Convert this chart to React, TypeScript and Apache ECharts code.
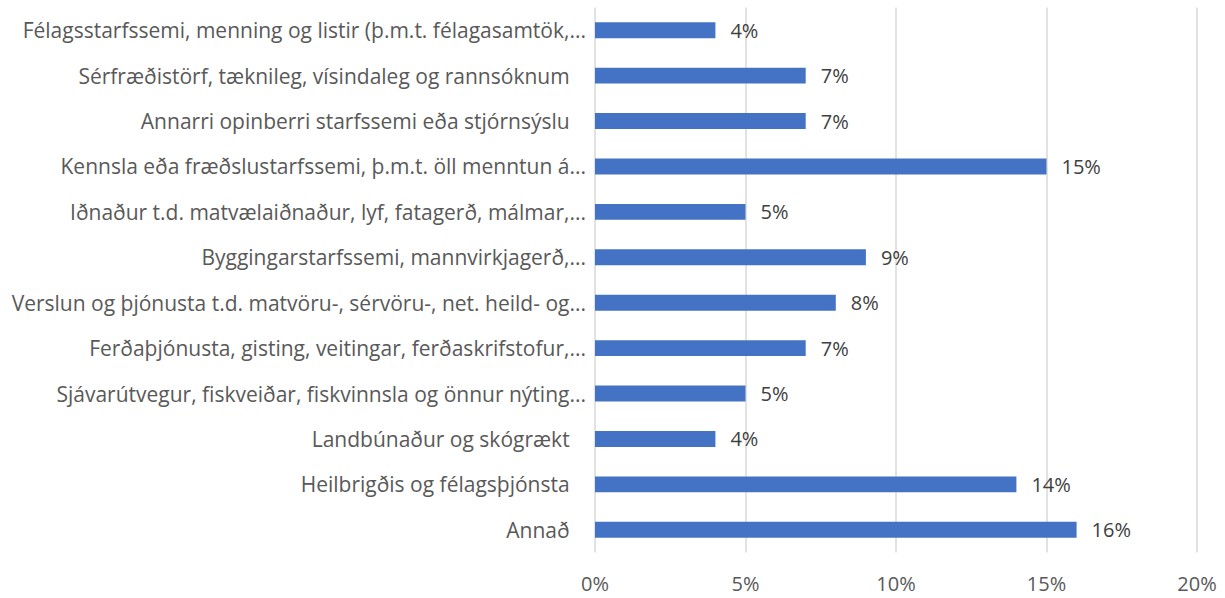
import React, { useEffect, useRef } from "react";
import * as echarts from "echarts";

const categories = [
  "Félagsstarfssemi, menning og listir (þ.m.t. félagasamtök,...",
  "Sérfræðistörf, tæknileg, vísindaleg og rannsóknum",
  "Annarri opinberri starfssemi eða stjórnsýslu",
  "Kennsla eða fræðslustarfssemi, þ.m.t. öll menntun á...",
  "Iðnaður t.d. matvælaiðnaður, lyf, fatagerð, málmar,...",
  "Byggingarstarfssemi, mannvirkjagerð,...",
  "Verslun og þjónusta t.d. matvöru-, sérvöru-, net. heild- og...",
  "Ferðaþjónusta, gisting, veitingar, ferðaskrifstofur,...",
  "Sjávarútvegur, fiskveiðar, fiskvinnsla og önnur nýting...",
  "Landbúnaður og skógrækt",
  "Heilbrigðis og félagsþjónsta",
  "Annað",
];
const values = [4, 7, 7, 15, 5, 9, 8, 7, 5, 4, 14, 16];
const xTicks = [0, 5, 10, 15, 20];

const FONT = "'Open Sans', sans-serif";

export default function App() {
  const ref = useRef<HTMLDivElement>(null);
  useEffect(() => {
    if (!ref.current) return;
    const chart = echarts.init(ref.current, undefined, { renderer: "svg" });
    chart.setOption({
      animation: false,
      grid: { left: 595, right: 28, top: 7.5, bottom: 45.5, containLabel: false },
      xAxis: {
        type: "value",
        min: xTicks[0],
        max: xTicks[xTicks.length - 1],
        interval: 5,
        axisLine: { show: false },
        axisTick: { show: false },
        splitLine: { show: true, lineStyle: { color: "#d9d9d9", width: 1.5 } },
        axisLabel: {
          formatter: "{value}%",
          color: "#595959",
          fontFamily: FONT,
          fontSize: 20,
          margin: 21,
        },
      },
      yAxis: {
        type: "category",
        inverse: true,
        data: categories,
        axisLine: { show: false },
        axisTick: { show: false },
        axisLabel: {
          color: "#595959",
          fontFamily: FONT,
          fontSize: 21,
          margin: 9,
          formatter: (v: string) => (v.endsWith("...") ? v : v + "\u00a0\u00a0\u00a0"),
        },
      },
      series: [
        {
          type: "bar",
          data: values,
          barWidth: "35%",
          itemStyle: { color: "#4472c4" },
          label: {
            show: true,
            position: "right",
            distance: 15,
            formatter: "{c}%",
            color: "#404040",
            fontFamily: FONT,
            fontSize: 20,
          },
        },
      ],
    });
    return () => chart.dispose();
  }, []);
  return (
    <div
      ref={ref}
      style={{ position: "fixed", left: 0, top: 0, width: 1225, height: 598, background: "#fff" }}
    />
  );
}
